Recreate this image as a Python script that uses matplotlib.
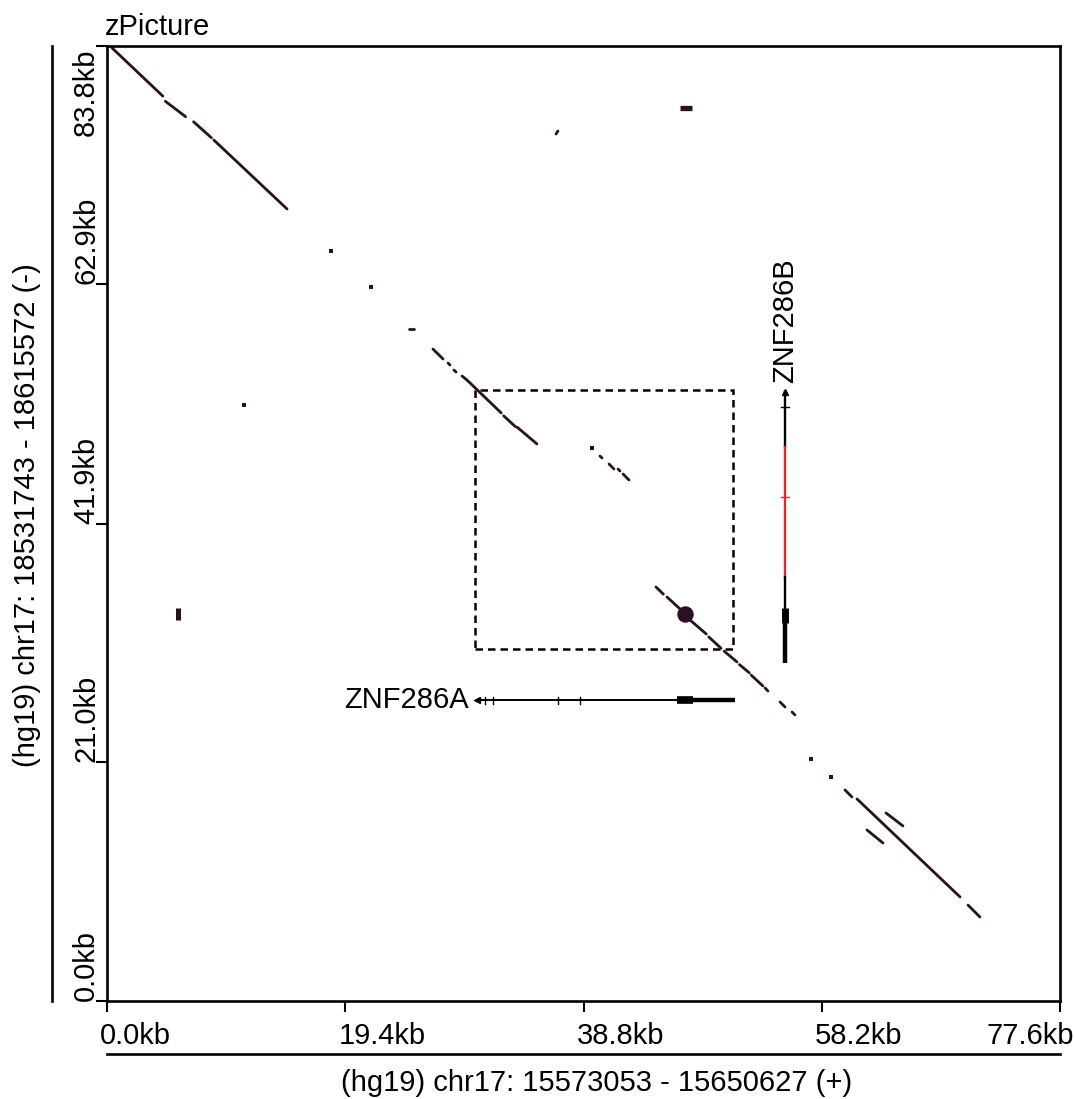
import matplotlib
matplotlib.use("Agg")
import matplotlib.pyplot as plt
from matplotlib.patches import Rectangle
from matplotlib.transforms import offset_copy, blended_transform_factory

plt.rcParams["font.family"] = ["Liberation Sans", "DejaVu Sans"]

# --- data (kb) ---
x_ticks = [0.0, 19.4, 38.8, 58.2, 77.6]
y_ticks = [0.0, 21.0, 41.9, 62.9, 83.8]
x_tick_labels = ["0.0kb", "19.4kb", "38.8kb", "58.2kb", "77.6kb"]
y_tick_labels = ["0.0kb", "21.0kb", "41.9kb", "62.9kb", "83.8kb"]
x_label = "(hg19) chr17: 15573053 - 15650627 (+)"
y_label = "(hg19) chr17: 18531743 - 18615572 (-)"

# alignment segments of the dot plot
seg_x0 = [0.41, 4.75, 7.05, 8.70, 24.63, 26.54, 27.77, 28.25, 28.91, 29.31, 32.30, 33.40,
          40.14, 40.88, 41.61, 42.02, 44.70, 45.60, 47.40, 49.00, 50.25, 51.50, 52.45,
          53.58, 54.80, 55.78, 60.09, 61.07, 70.11, 63.43, 61.88, 36.56]
seg_x1 = [4.55, 6.40, 8.50, 14.66, 25.00, 27.36, 27.93, 28.42, 29.31, 32.10, 33.25, 35.01,
          40.31, 41.28, 41.77, 42.50, 45.30, 46.66, 48.80, 50.00, 51.30, 52.30, 53.40,
          53.82, 55.21, 56.02, 60.66, 69.46, 71.08, 64.81, 63.19, 36.72]
seg_y0 = [83.63, 78.95, 77.15, 75.55, 58.97, 57.21, 55.98, 55.37, 54.84, 54.49, 51.35, 50.35,
          47.82, 47.12, 46.68, 46.24, 36.33, 35.45, 33.50, 31.95, 30.70, 29.52, 28.60,
          27.47, 26.24, 25.36, 18.52, 17.73, 8.42, 16.50, 15.01, 76.08]
seg_y1 = [79.40, 77.60, 75.75, 69.50, 58.97, 56.34, 55.81, 55.19, 54.49, 51.60, 50.40, 48.88,
          47.65, 46.68, 46.51, 45.72, 35.70, 34.40, 32.20, 30.95, 29.75, 28.80, 27.65,
          27.20, 25.80, 25.10, 17.90, 9.13, 7.37, 15.36, 13.86, 76.34]

# isolated dots
dot_x = [18.24, 21.50, 39.49, 57.32, 58.95, 11.16]
dot_y = [65.81, 62.65, 48.53, 21.24, 19.66, 52.30]

# larger blobs
blob_x = [47.06]
blob_y = [33.96]
hbar_x = [46.66, 47.63]
hbar_y = [78.32, 78.32]
vbar_x = [5.82, 5.82]
vbar_y = [33.43, 34.49]

# highlighted region
box_x = [30.0, 51.0]
box_y = [30.9, 53.6]

# gene ZNF286A (horizontal, y = 26.4)
gA_y = 26.4
gA_line = [30.1, 46.4]
gA_box = [46.4, 47.7]
gA_utr = [47.7, 51.1]
gA_ticks = [30.8, 31.4, 36.7, 38.5]

# gene ZNF286B (vertical, x = 55.2)
gB_x = 55.2
gB_line_top = [48.6, 53.4]
gB_red = [37.2, 48.6]
gB_line_bot = [34.5, 37.2]
gB_box = [33.2, 34.5]
gB_utr = [29.7, 33.2]
gB_ticks = [52.1]
gB_red_ticks = [44.2]

dot_color = "#2b0f22"
fs = 21

fig = plt.figure(figsize=(10.75, 10.99), dpi=100)
ax = fig.add_axes([107 / 1075, 1 - 1001 / 1099, 953 / 1075, 955 / 1099])
ax.set_xlim(x_ticks[0], x_ticks[-1])
ax.set_ylim(y_ticks[0], y_ticks[-1])

for s in ax.spines.values():
    s.set_linewidth(1.9)
ax.set_xticks(x_ticks)
ax.set_yticks(y_ticks)
ax.tick_params(direction="out", length=8, width=1.5, labelbottom=False, labelleft=False)

# dot plot
for x0, x1, y0, y1 in zip(seg_x0, seg_x1, seg_y0, seg_y1):
    ax.plot([x0, x1], [y0, y1], color=dot_color, lw=2.0, solid_capstyle="round")
ax.scatter(dot_x, dot_y, s=8, color=dot_color, marker="s", linewidths=0)
ax.scatter(blob_x, blob_y, s=140, color=dot_color, linewidths=0)
ax.plot(hbar_x, hbar_y, color=dot_color, lw=3.8, solid_capstyle="butt")
ax.plot(vbar_x, vbar_y, color=dot_color, lw=3.6, solid_capstyle="butt")

# dashed box
ax.add_patch(Rectangle((box_x[0], box_y[0]), box_x[1] - box_x[0], box_y[1] - box_y[0],
                       fill=False, ls=(0, (3, 2)), lw=1.8, color="black"))

# ZNF286A
ax.plot(gA_line, [gA_y, gA_y], color="black", lw=1.4)
ax.plot(gA_box, [gA_y, gA_y], color="black", lw=5.5, solid_capstyle="butt")
ax.plot(gA_utr, [gA_y, gA_y], color="black", lw=3.2, solid_capstyle="butt")
ax.plot([gA_line[0]], [gA_y], marker="<", ms=5, color="black")
for t in gA_ticks:
    ax.plot([t, t], [gA_y - 0.3, gA_y + 0.3], color="black", lw=1.0)
ax.text(gA_line[0] - 0.65, gA_y, "ZNF286A", ha="right", va="center", fontsize=fs)

# ZNF286B
ax.plot([gB_x, gB_x], gB_line_top, color="black", lw=1.7)
ax.plot([gB_x, gB_x], gB_red, color="#e8262b", lw=1.7)
ax.plot([gB_x, gB_x], gB_line_bot, color="black", lw=1.7)
ax.plot([gB_x, gB_x], gB_box, color="black", lw=5.0, solid_capstyle="butt")
ax.plot([gB_x, gB_x], gB_utr, color="black", lw=3.2, solid_capstyle="butt")
ax.plot([gB_x], [gB_line_top[1]], marker="^", ms=5, color="black")
for t in gB_ticks:
    ax.plot([gB_x - 0.3, gB_x + 0.3], [t, t], color="black", lw=1.0)
for t in gB_red_ticks:
    ax.plot([gB_x - 0.3, gB_x + 0.3], [t, t], color="#e8262b", lw=1.0)
ax.text(gB_x, gB_line_top[1] + 0.8, "ZNF286B", rotation=90, ha="center", va="bottom",
        fontsize=fs)

# tick labels
tx = blended_transform_factory(ax.transData, ax.transAxes)
for i, (v, lab) in enumerate(zip(x_ticks, x_tick_labels)):
    last = i == len(x_ticks) - 1
    tr = offset_copy(tx, fig=fig, x=10 if last else -5, units="points")
    ax.text(v, -0.045, lab, transform=tr, ha="right" if last else "left",
            va="baseline", fontsize=fs)

ty = blended_transform_factory(ax.transAxes, ax.transData)
for i, (v, lab) in enumerate(zip(y_ticks, y_tick_labels)):
    last = i == len(y_ticks) - 1
    tr = offset_copy(ty, fig=fig, y=-1.5 if last else 0, units="points")
    ax.text(-0.0136, v, lab, transform=tr, rotation=90, rotation_mode="anchor",
            ha="right" if last else "left", va="baseline", fontsize=fs)

# axis labels with separator lines
ax.plot([0, 1], [-0.0555, -0.0555], transform=ax.transAxes, color="black", lw=1.9,
        clip_on=False)
ax.plot([-0.0577, -0.0577], [0, 1], transform=ax.transAxes, color="black", lw=1.9,
        clip_on=False)
ax.text(0.514, -0.0859, x_label, transform=ax.transAxes, ha="center", va="center",
        fontsize=fs)
ax.text(-0.0839, 0.509, y_label, transform=ax.transAxes, ha="center", va="center",
        rotation=90, fontsize=fs)
ax.text(-0.002, 1.0115, "zPicture", transform=ax.transAxes, ha="left", va="baseline",
        fontsize=fs)

fig.savefig("out.png", dpi=100)
